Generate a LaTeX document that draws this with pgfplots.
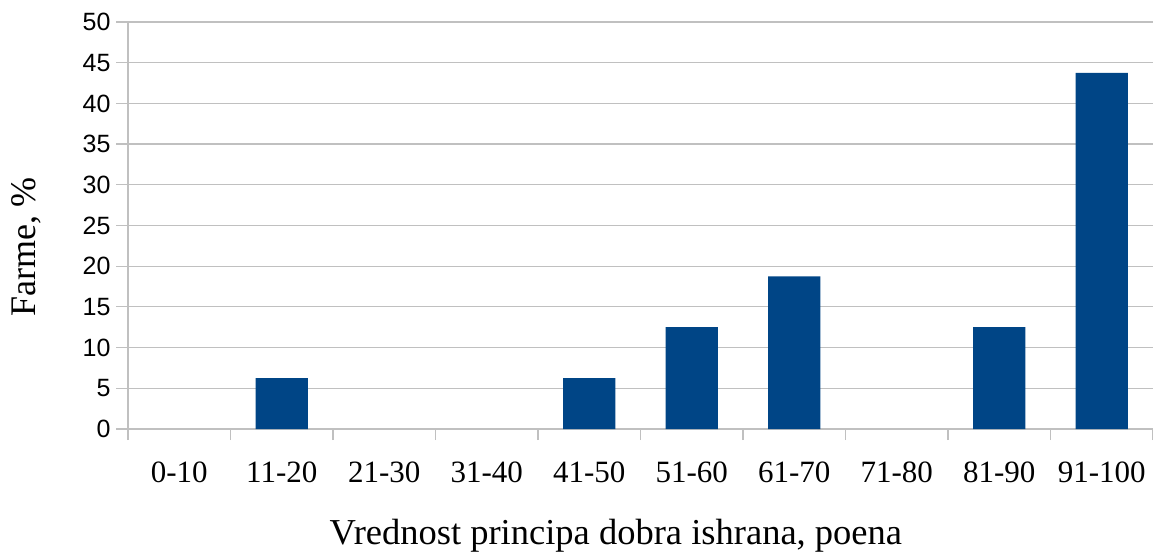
\documentclass[border=0pt]{standalone}
\usepackage{pgfplots}
\pgfplotsset{compat=1.18}
\usepackage{fontspec}
\setmainfont{Liberation Serif}
\newfontfamily\sansf{Liberation Sans}
\definecolor{barblue}{HTML}{004586}
\definecolor{gridgray}{HTML}{C0C0C0}
\begin{document}
\begin{tikzpicture}[x=1pt,y=1pt]
\begin{axis}[
  at={(128pt,125pt)}, anchor=south west,
  scale only axis, width=1025pt, height=407pt,
  xmin=-0.5, xmax=9.5, ymin=0, ymax=50,
  axis x line*=bottom, axis y line*=left,
  axis line style={gridgray, line width=1.2pt, -},
  xtick={0,...,9},
  xticklabels={0-10,11-20,21-30,31-40,41-50,51-60,61-70,71-80,81-90,91-100},
  minor xtick={-0.5,0.5,...,9.5},
  major x tick style={draw=none},
  minor x tick style={gridgray, line width=1.2pt},
  ytick={0,5,...,50},
  ymajorgrids,
  grid style={gridgray, line width=1.2pt},
  y tick style={gridgray, line width=1.2pt},
  tick align=outside,
  major tick length=12pt, minor tick length=11pt,
  xticklabel style={font=\fontsize{31}{36}\selectfont, yshift=-17pt},
  yticklabel style={font=\sansf\fontsize{25}{30}\selectfont, xshift=-2pt},
  y tick label style={/pgf/number format/assume math mode=true},
  xlabel={Vrednost principa dobra ishrana, poena},
  ylabel={Farme, \%},
  xlabel style={font=\fontsize{36.5}{40}\selectfont, anchor=base, at={(0.476,0)}, yshift=-115pt},
  ylabel style={font=\fontsize{36}{40}\selectfont, anchor=base, at={(0,0.5)}, xshift=-21.5pt, yshift=92pt},
  clip=false,
]
\addplot[ybar, bar width=0.51, fill=barblue, draw=none] coordinates {
  (1,6.25) (4,6.25) (5,12.5) (6,18.75) (8,12.5) (9,43.75)
};
\end{axis}
\pgfresetboundingbox
\path (0,0) rectangle (1153,554);
\end{tikzpicture}
\end{document}
